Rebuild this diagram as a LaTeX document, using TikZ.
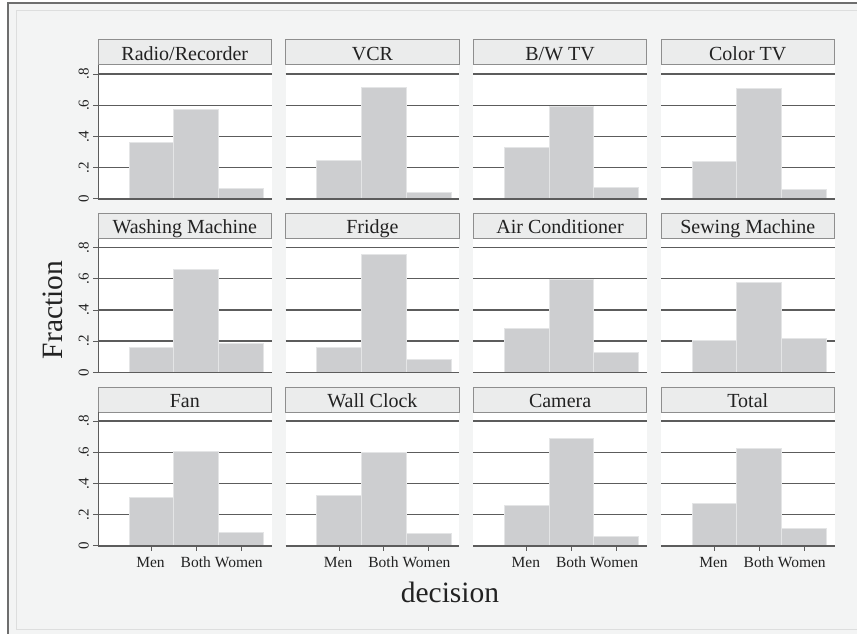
\documentclass[tikz,border=0pt]{standalone}
\usepackage{fontspec}
\setmainfont{Liberation Serif}
\definecolor{bgc}{HTML}{F3F4F4}
\definecolor{framec}{HTML}{6E6E6E}
\definecolor{innerc}{HTML}{DDDEDE}
\definecolor{gridc}{HTML}{5C5C5C}
\definecolor{barc}{HTML}{CDCED0}
\definecolor{baredge}{HTML}{E4E5E6}
\definecolor{titlefill}{HTML}{EBECEC}
\definecolor{titledraw}{HTML}{8E8E8E}
\definecolor{textc}{HTML}{222222}
\newcommand{\fpanel}[6]{%
  \pgfmathsetmacro\PL{98+187.67*#1}%
  \pgfmathsetmacro\PT{40+173.5*#2}%
  \pgfmathsetmacro\PA{\PT+158.8}%
  \pgfmathsetmacro\PR{\PL+173.5}%
  \pgfmathsetmacro\PC{\PL+86.75}%
  \fill[white] (\PL,{\PT+25}) rectangle (\PR,\PA);
  \foreach \v in {0.2,0.4,0.6,0.8}
    \draw[gridline] (\PL,{\PA-156*\v}) -- (\PR,{\PA-156*\v});
  \draw[barbox] ({\PL+31},\PA) rectangle ({\PL+75.75},{\PA-156*#4});
  \draw[barbox] ({\PL+75.75},\PA) rectangle ({\PL+120.5},{\PA-156*#5});
  \draw[barbox] ({\PL+120.5},\PA) rectangle ({\PL+165.25},{\PA-156*#6});
  \draw[axisline] (\PL,\PA) -- (\PR,\PA);
  \node[titlebox] (title-#1-#2) at (\PC,{\PT+12.5}) {#3};
}
\begin{document}
\begin{tikzpicture}[x=1pt,y=-1pt,
  gridline/.style={draw=gridc, line width=1.3pt},
  axisline/.style={draw=gridc, line width=1.4pt},
  barbox/.style={fill=barc, draw=baredge, line width=0.8pt},
  titlebox/.style={draw=titledraw, fill=titlefill, line width=1pt,
    minimum width=173.5pt, minimum height=25pt, inner sep=0pt,
    text height=16.5pt, text depth=1.5pt, text=textc,
    font=\fontsize{20}{24}\selectfont},
  ticklab/.style={text=textc, inner sep=0pt, font=\fontsize{15}{18}\selectfont},
  xticklab/.style={text=textc, inner sep=0pt, font=\fontsize{15.5}{18}\selectfont},
  ticks/.style={draw=gridc, line width=0.8pt},
  bigtitle/.style={text=textc, inner sep=0pt, font=\fontsize{29.5}{34}\selectfont}]
\useasboundingbox (0,0) rectangle (857,634);
\fill[white] (0,0) rectangle (857,634);
\fill[bgc] (8,3) rectangle (857,634);
\draw[innerc, line width=1pt] (16,11) -- (870,11) -- (870,629) -- (16,629) -- cycle;
\draw[framec, line width=2pt] (8,640) -- (8,3) -- (870,3);
% panels
\fpanel{0}{0}{Radio/Recorder}{0.364}{0.571}{0.066}
\fpanel{1}{0}{VCR}{0.246}{0.712}{0.043}
\fpanel{2}{0}{B/W TV}{0.329}{0.593}{0.075}
\fpanel{3}{0}{Color TV}{0.237}{0.706}{0.060}
\fpanel{0}{1}{Washing Machine}{0.162}{0.657}{0.185}
\fpanel{1}{1}{Fridge}{0.162}{0.755}{0.083}
\fpanel{2}{1}{Air Conditioner}{0.281}{0.594}{0.128}
\fpanel{3}{1}{Sewing Machine}{0.206}{0.577}{0.219}
\fpanel{0}{2}{Fan}{0.311}{0.602}{0.085}
\fpanel{1}{2}{Wall Clock}{0.322}{0.599}{0.079}
\fpanel{2}{2}{Camera}{0.256}{0.689}{0.058}
\fpanel{3}{2}{Total}{0.275}{0.623}{0.109}
% y axes (left column)
\foreach \r in {0,1,2}{
  \pgfmathsetmacro\PT{40+173.5*\r}
  \pgfmathsetmacro\PA{\PT+158.8}
  \draw[ticks] (98,{\PT+25}) -- (98,\PA);
  \foreach \v/\lab in {0/0,0.2/.2,0.4/.4,0.6/.6,0.8/.8}{
    \draw[ticks] (93,{\PA-156*\v}) -- (98,{\PA-156*\v});
    \node[ticklab, rotate=90, anchor=base] (ylab-\r-\v) at (88.5,{\PA-156*\v}) {\lab};
  }
}
% x axes (bottom row)
\foreach \c in {0,1,2,3}{
  \pgfmathsetmacro\PL{98+187.67*\c}
  \foreach \dx/\tx/\lab in {53.4/52.5/Men,98.1/97.8/Both,142.9/140.8/Women}{
    \draw[ticks] ({\PL+\dx},545.8) -- ({\PL+\dx},550.8);
    \node[xticklab, anchor=base] (xlab-\c-\lab) at ({\PL+\tx},567.3) {\lab};
  }
}
\node[bigtitle, rotate=90, anchor=base] (ytitle) at (62,310) {Fraction};
\node[bigtitle, anchor=base] (xtitle) at (450,602.7) {decision};
\end{tikzpicture}
\end{document}
